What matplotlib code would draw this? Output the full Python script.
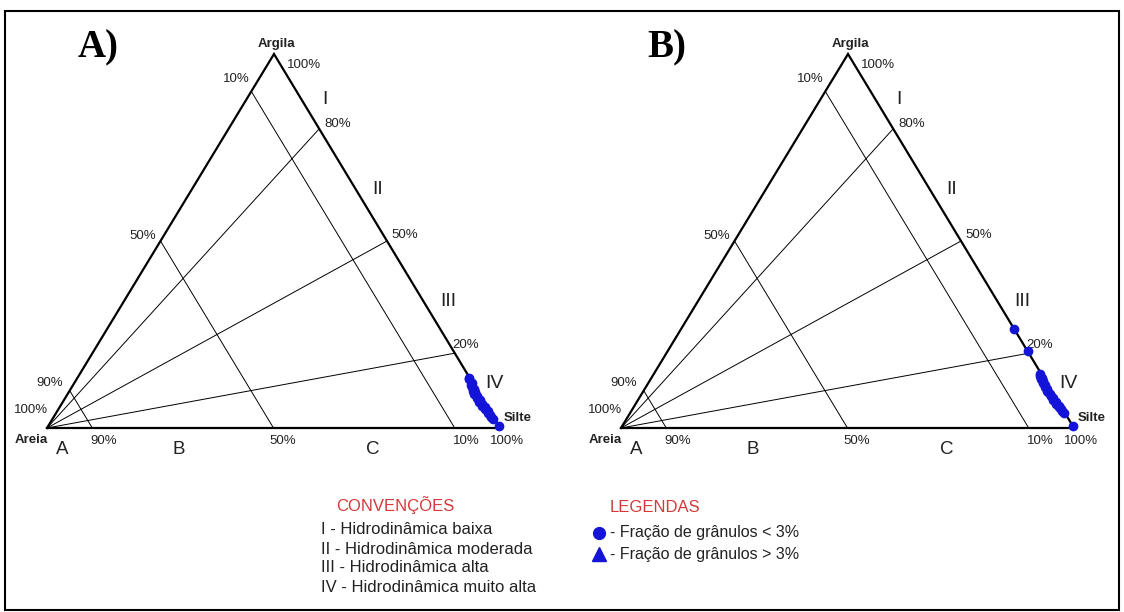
import numpy as np
import matplotlib
matplotlib.use("Agg")
import matplotlib.pyplot as plt
from matplotlib.patches import Rectangle

# Reference lines of the Pejrup diagram (percent)
sand_lines = [10, 50, 90]          # constant sand content
clay_ratio_lines = [80, 50, 20]    # clay / (clay + silt)
roman = ["I", "II", "III", "IV"]
sector_letters = ["A", "B", "C"]

# Samples, panel A (percent sand, percent clay; silt is the rest)
sand_a = [0.0, 0.3, 0.2, 0.6, 0.8, 0.5, 1.0, 0.8, 1.2, 0.9, 1.0, 0.7, 1.1, 0.8, 0.9, 0.6, 0.8, 0.5, 0.6, 0.4, 0.5, 0.3, 0.0]
clay_a = [13.5, 13.0, 12.0, 11.5, 11.0, 10.5, 10.0, 9.5, 9.0, 8.5, 8.0, 7.5, 7.0, 6.5, 6.0, 5.5, 5.0, 4.5, 4.0, 3.5, 3.0, 2.5, 0.5]

# Samples, panel B
sand_b = [0.0, 0.0, 0.2, 0.5, 0.3, 0.8, 0.6, 0.9, 0.7, 1.0, 0.8, 0.9, 1.1, 0.7, 0.9, 0.6, 0.8, 0.5, 0.7, 0.4, 0.6, 0.3, 0.4, 0.2, 0.0]
clay_b = [26.5, 20.5, 14.5, 14.0, 13.5, 13.0, 12.5, 12.0, 11.5, 11.0, 10.5, 10.0, 9.5, 9.0, 8.5, 8.0, 7.5, 7.0, 6.5, 6.0, 5.5, 5.0, 4.5, 4.0, 0.5]

conv_items = ["I - Hidrodinâmica baixa", "II - Hidrodinâmica moderada",
              "III - Hidrodinâmica alta", "IV - Hidrodinâmica muito alta"]
legend_items = ["- Fração de grânulos < 3%", "- Fração de grânulos > 3%"]

W, H = 1124, 612
fig = plt.figure(figsize=(W / 100, H / 100), dpi=100)
ax = fig.add_axes([0, 0, 1, 1])
ax.set_xlim(0, W)
ax.set_ylim(H, 0)
ax.axis("off")

SANS = ["Liberation Sans", "DejaVu Sans"]
SERIF = ["Liberation Serif", "DejaVu Serif"]
BLUE = "#1414d8"
TXT = "#222222"
FS = 9.5


def label(x, y, s, **kw):
    kw.setdefault("fontsize", FS)
    kw.setdefault("color", TXT)
    kw.setdefault("va", "center")
    ax.text(x, y, s, family=SANS, **kw)


def make_panel(dx):
    areia = np.array([47.0 + dx, 428.0])
    silte = np.array([500.0 + dx, 428.0])
    argila = np.array([274.0 + dx, 54.0])

    def xy(sand, clay):
        sand = np.asarray(sand, float) / 100
        clay = np.asarray(clay, float) / 100
        silt = 1 - sand - clay
        return (np.multiply.outer(sand, areia) + np.multiply.outer(silt, silte)
                + np.multiply.outer(clay, argila))

    # outer triangle
    tri = np.array([areia, silte, argila, areia])
    ax.plot(tri[:, 0], tri[:, 1], color="black", lw=1.6, solid_joinstyle="miter", zorder=3)

    # constant sand lines (parallel to the Argila–Silte side)
    for s in sand_lines:
        p1 = xy(s, 100 - s)
        p2 = xy(s, 0)
        ax.plot([p1[0], p2[0]], [p1[1], p2[1]], color="black", lw=0.7, zorder=2)

    # clay ratio lines from the Areia vertex
    for r in clay_ratio_lines:
        p = xy(0, r)
        ax.plot([areia[0], p[0]], [areia[1], p[1]], color="black", lw=0.7, zorder=2)

    # vertex names
    label(argila[0] + 2, argila[1] - 10, "Argila", ha="center", fontweight="bold")
    label(areia[0] - 32, areia[1] + 12, "Areia", ha="left", fontweight="bold")
    label(silte[0] + 4, silte[1] - 10, "Silte", ha="left", fontweight="bold")

    # percent labels
    p10 = xy(10, 90)
    label(p10[0] - 2, p10[1] - 12, "10%", ha="right")
    label(argila[0] + 13, argila[1] + 11, "100%", ha="left")
    for r, off in zip(clay_ratio_lines, [(5, -5), (4, -6), (-2, -8)]):
        p = xy(0, r)
        label(p[0] + off[0], p[1] + off[1], f"{r}%", ha="left")
    p50 = xy(50, 50)
    label(p50[0] - 4, p50[1] - 5, "50%", ha="right")
    label(areia[0] + 16, areia[1] - 45, "90%", ha="right")
    label(areia[0] + 1, areia[1] - 18, "100%", ha="right")
    for s, off in zip(sand_lines, [12, 9, 11]):
        p = xy(s, 0)
        label(p[0] + off, p[1] + 13, f"{s}%", ha="center")
    label(silte[0] + 7, silte[1] + 13, "100%", ha="center")

    # hydrodynamic sectors along the right side
    for lab, yy, off in zip(roman, [99, 189, 302, 383], [21, 17, 16, 12]):
        t = (argila[1] - yy) / (argila[1] - silte[1])
        xs = argila[0] + t * (silte[0] - argila[0])
        label(xs + off, yy, lab, fontsize=14, ha="left")

    # sand sectors under the base
    for lab, xfrac in zip(sector_letters, [0.033, 0.29, 0.72]):
        px = areia[0] + xfrac * (silte[0] - areia[0])
        label(px, areia[1] + 22, lab, fontsize=13.5, ha="center")
    return xy


xy_a = make_panel(0)
xy_b = make_panel(574)

pa = xy_a(sand_a, clay_a)
ax.plot(pa[:, 0], pa[:, 1], "o", color=BLUE, ms=6, mec=BLUE, zorder=5)
pb = xy_b(sand_b, clay_b)
ax.plot(pb[:, 0], pb[:, 1], "o", color=BLUE, ms=6, mec=BLUE, zorder=5)

# panel tags
ax.text(78, 48, "A)", fontsize=28, family=SERIF, fontweight="bold", ha="left", va="center")
ax.text(647, 48, "B)", fontsize=28, family=SERIF, fontweight="bold", ha="left", va="center")

# conventions block
RED = "#d23a3a"
label(336, 505, "CONVENÇÕES", fontsize=12, color=RED, ha="left")
for i, t in enumerate(conv_items):
    label(321, 530 + 19 * i, t, fontsize=12, ha="left")

# legend block
label(610, 508, "LEGENDAS", fontsize=12, color=RED, ha="left")
ax.plot([599], [533], "o", color=BLUE, ms=8.5, mec=BLUE)
ax.plot([599], [554], "^", color=BLUE, ms=10, mec=BLUE)
label(610, 533, legend_items[0], fontsize=11.5, ha="left")
label(610, 554, legend_items[1], fontsize=11.5, ha="left")

# outer frame
ax.add_patch(Rectangle((5, 11), 1114, 599, fill=False, ec="black", lw=1.5))

fig.savefig("out.png", dpi=100)
